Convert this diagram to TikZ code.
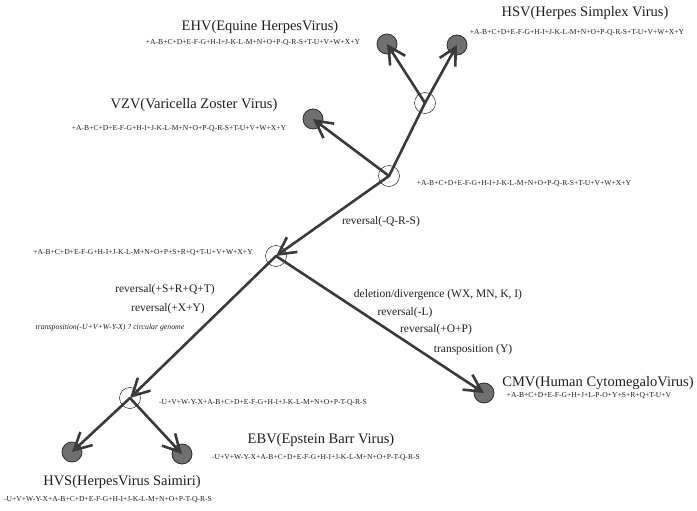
\documentclass[tikz,border=0pt]{standalone}
\usepackage{fontspec}
\setmainfont{Liberation Serif}
\usepackage{tikz}
\usetikzlibrary{arrows.meta}
\definecolor{branchgray}{HTML}{3A3A3A}
\definecolor{leafgray}{HTML}{707070}
\definecolor{leafedge}{HTML}{2E2E2E}
\definecolor{inkblack}{HTML}{1E1E1E}
\tikzset{
  leafnode/.style={
    circle, draw=leafedge, fill=leafgray, thick,
    minimum size=20pt, inner sep=0pt
  },
  splitnode/.style={
    circle, draw=black, thin,
    minimum size=21pt, inner sep=0pt
  },
  branch/.style={
    line width=2.6pt, color=branchgray, line cap=round
  },
  treearrow/.style={
    branch, -{Straight Barb[length=17pt, width=18pt, line width=2.6pt]}
  },
  virusname/.style={
    font=\fontsize{14.5}{16}\selectfont, text=inkblack, inner sep=0pt
  },
  genome/.style={
    font=\fontsize{7.6}{8}\selectfont, text=inkblack, inner sep=0pt
  },
  eventlabel/.style={
    font=\fontsize{11.5}{13}\selectfont, text=inkblack, inner sep=0pt
  },
  notelabel/.style={
    font=\fontsize{7.8}{9}\selectfont\itshape, text=inkblack, inner sep=0pt
  },
}
\begin{document}
\begin{tikzpicture}[x=1pt, y=-1pt]
  \useasboundingbox (0,0) rectangle (697,511);
  % ancestral nodes
  \node[splitnode] (root)   at (389,176) {};
  \node[splitnode] (alpha)  at (425,103) {};
  \node[splitnode] (beta)   at (276,256) {};
  \node[splitnode] (gamma)  at (130,398) {};
  % present-day viruses
  \node[leafnode] (ehv) at (387,44) {};
  \node[leafnode] (hsv) at (457,45) {};
  \node[leafnode] (vzv) at (313,119) {};
  \node[leafnode] (cmv) at (484,393) {};
  \node[leafnode] (hvs) at (72,452) {};
  \node[leafnode] (ebv) at (182,454) {};
  % branches
  \draw[branch] (root.center) -- (alpha.center);
  \draw[treearrow] (alpha.center) -- (hsv.center);
  \draw[treearrow] (alpha.center) -- (ehv.center);
  \draw[treearrow] (root.center) -- (vzv.center);
  \draw[treearrow] (root.center) -- (beta.center);
  \draw[treearrow] (beta.center) -- (cmv.center);
  \draw[treearrow] (beta.center) -- (gamma.center);
  \draw[treearrow] (gamma.center) -- (hvs.center);
  \draw[treearrow] (gamma.center) -- (ebv.center);
  % names and gene orders
  \node[virusname] (ehvname) at (260,27) {EHV(Equine HerpesVirus)};
  \node[genome] at (253,43) {+A-B+C+D+E-F-G+H-I+J-K-L-M+N+O+P-Q-R-S+T-U+V+W+X+Y};
  \node[virusname] (hsvname) at (585,13) {HSV(Herpes Simplex Virus)};
  \node[genome] at (577,33) {+A-B+C+D+E-F-G+H-I+J-K-L-M+N+O+P-Q-R-S+T-U+V+W+X+Y};
  \node[virusname] (vzvname) at (194,105) {VZV(Varicella Zoster Virus)};
  \node[genome] at (179,129) {+A-B+C+D+E-F-G+H-I+J-K-L-M+N+O+P-Q-R-S+T-U+V+W+X+Y};
  \node[genome] at (524,184) {+A-B+C+D+E-F-G+H-I+J-K-L-M+N+O+P-Q-R-S+T-U+V+W+X+Y};
  \node[genome] at (143,253) {+A-B+C+D+E-F-G+H-I+J-K-L-M+N+O+P+S+R+Q+T-U+V+W+X+Y};
  \node[genome] at (263,403) {-U+V+W-Y-X+A-B+C+D+E-F-G+H-I+J-K-L-M+N+O+P-T-Q-R-S};
  \node[virusname] (cmvname) at (598,383) {CMV(Human CytomegaloVirus)};
  \node[genome] at (589,396) {+A-B+C+D+E-F-G+H+J+L-P-O+Y+S+R+Q+T-U+V};
  \node[virusname] (ebvname) at (321,440) {EBV(Epstein Barr Virus)};
  \node[genome] at (316,458) {-U+V+W-Y-X+A-B+C+D+E-F-G+H-I+J-K-L-M+N+O+P-T-Q-R-S};
  \node[virusname] (hvsname) at (122,482) {HVS(HerpesVirus Saimiri)};
  \node[genome] at (108,500) {-U+V+W-Y-X+A-B+C+D+E-F-G+H-I+J-K-L-M+N+O+P-T-Q-R-S};
  % rearrangement events
  \node[eventlabel] at (381,222) {reversal(-Q-R-S)};
  \node[eventlabel] at (165,290) {reversal(+S+R+Q+T)};
  \node[eventlabel] at (168,309) {reversal(+X+Y)};
  \node[notelabel] at (110,328) {transposition(-U+V+W-Y-X) ? circular genome};
  \node[eventlabel] at (438,295) {deletion/divergence (WX, MN, K, I)};
  \node[eventlabel] at (405,313) {reversal(-L)};
  \node[eventlabel] at (436,330) {reversal(+O+P)};
  \node[eventlabel] at (473,350) {transposition (Y)};
\end{tikzpicture}
\end{document}
